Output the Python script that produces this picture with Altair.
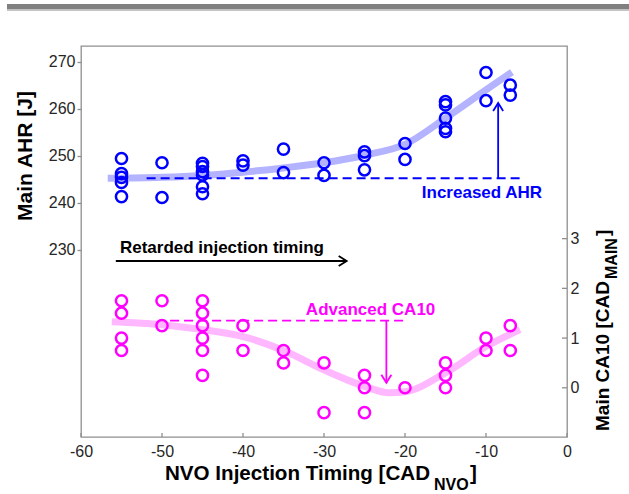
import altair as alt
import pandas as pd

# ---------------------------------------------------------------- data
# Main AHR [J] against NVO injection timing
ahr_timing = [-55, -55, -55, -55, -55,
              -50, -50,
              -45, -45, -45, -45, -45, -45,
              -40, -40,
              -35, -35,
              -30, -30,
              -25, -25, -25,
              -20, -20,
              -15, -15, -15, -15, -15,
              -10, -10,
              -7, -7]
ahr_values = [249.4, 246.2, 245.4, 244.3, 241.3,
              248.5, 241.1,
              248.4, 247.7, 246.6, 245.9, 243.4, 241.9,
              248.9, 248.0,
              251.4, 246.4,
              248.5, 245.8,
              250.8, 250.0, 247.0,
              252.6, 249.2,
              261.5, 260.8, 258.0, 255.8, 255.1,
              267.7, 261.7,
              265.0, 262.9]

# Main CA10 [CAD_MAIN] against NVO injection timing
ca10_timing = [-55, -55, -55, -55,
               -50, -50,
               -45, -45, -45, -45, -45, -45,
               -40, -40,
               -35, -35,
               -30, -30,
               -25, -25, -25,
               -20,
               -15, -15, -15,
               -10, -10,
               -7, -7]
ca10_values = [1.75, 1.5, 1.0, 0.75,
               1.75, 1.25,
               1.75, 1.5, 1.25, 1.0, 0.75, 0.25,
               1.25, 0.75,
               0.75, 0.5,
               0.5, -0.5,
               0.25, 0.0, -0.5,
               0.0,
               0.5, 0.25, 0.0,
               1.0, 0.75,
               1.25, 0.75]

# smoothed trends
ahr_fit_timing = [-56.7, -50, -45, -40, -35, -30, -25, -20, -15, -10, -6.8]
ahr_fit_values = [245.2, 245.4, 245.8, 246.5, 247.4, 248.5, 250.1, 252.4, 258.0, 264.0, 267.8]
ca10_fit_timing = [-56.2, -50, -45, -40, -35, -30, -25, -22, -20, -15, -10, -5.8]
ca10_fit_values = [1.33, 1.27, 1.17, 1.03, 0.75, 0.36, 0.03, -0.10, -0.08, 0.30, 0.83, 1.17]

# annotation geometry (data units)
ahr_ref_level = 245.2
ahr_ref_span = [-51.9, -5.4]
ahr_arrow = {"x": -8.5, "from": 245.2, "to": 261.2}
ca10_ref_level = 1.35
ca10_ref_span = [-49.0, -20.2]
ca10_arrow = {"x": -22.3, "from": 1.35, "to": 0.10}
timing_arrow = {"y": 227.6, "from": -55.7, "to": -27.2}

x_ticks = [-60, -50, -40, -30, -20, -10, 0]
ahr_ticks = [230, 240, 250, 260, 270]
ca10_ticks = [0, 1, 2, 3]

X_DOMAIN = [-60, 0]
AHR_DOMAIN = [190.15, 273.34]
CA10_DOMAIN = [-0.99, 6.875]

# ---------------------------------------------------------------- style
W, H = 486, 391
FONT = "Liberation Sans"
BLUE = "#0000ff"
MAGENTA = "#ff00ff"
BLUE_FIT = "#b3b3ff"
MAGENTA_FIT = "#ffb8ff"
FRAME = "#8f8f8f"
LABEL = "#262626"
DASH = [9, 5]

xs = alt.Scale(domain=X_DOMAIN, nice=False, zero=False)
ys_ahr = alt.Scale(domain=AHR_DOMAIN, nice=False, zero=False)
ys_ca = alt.Scale(domain=CA10_DOMAIN, nice=False, zero=False)

# one axis definition per scale, shared by every layer that uses it
x_axis = alt.Axis(
    values=x_ticks, title=None, ticks=False, tickSize=0, domain=False, grid=False,
    labelPadding=6, labelFont=FONT, labelFontSize=16, labelColor=LABEL,
    labelExpr="'' + datum.value", labelFlush=False)
ahr_axis = alt.Axis(
    orient="left", values=ahr_ticks, title=None, tickSize=4, tickColor=FRAME,
    tickWidth=1.3, domain=False, grid=False, labelPadding=2, labelFont=FONT,
    labelFontSize=16, labelColor=LABEL)
ca_axis = alt.Axis(
    orient="right", values=ca10_ticks, title=None, ticks=False, tickSize=0,
    domain=False, grid=False, labelPadding=3, labelFont=FONT, labelFontSize=16,
    labelColor=LABEL)

# open arrowheads, tip at the origin of the symbol
UP = "M -0.625 1 L 0 0 L 0.625 1"
DOWN = "M -0.625 -1 L 0 0 L 0.625 -1"
RIGHT = "M -1 -0.625 L 0 0 L -1 0.625"
HEAD_SIZE = 256
CIRCLE_SIZE = 125

one = pd.DataFrame({"k": [0]})


def xq(field):
    return alt.X(field, type="quantitative", scale=xs, axis=x_axis)


def y_ahr(field):
    return alt.Y(field, type="quantitative", scale=ys_ahr, axis=ahr_axis)


def y_ca(field):
    return alt.Y(field, type="quantitative", scale=ys_ca, axis=ca_axis)


# ---------------------------------------------------------------- AHR layers
ahr_df = pd.DataFrame({"t": ahr_timing, "v": ahr_values})
ahr_fit_df = pd.DataFrame({"t": ahr_fit_timing, "v": ahr_fit_values})
ahr_ref_df = pd.DataFrame({"t": ahr_ref_span, "v": [ahr_ref_level] * 2})
ahr_arrow_df = pd.DataFrame({"t": [ahr_arrow["x"]], "a": [ahr_arrow["from"]], "b": [ahr_arrow["to"]]})
timing_df = pd.DataFrame({"a": [timing_arrow["from"]], "b": [timing_arrow["to"]], "v": [timing_arrow["y"]]})

ahr_fit = alt.Chart(ahr_fit_df).mark_line(
    color=BLUE_FIT, strokeWidth=7, interpolate="monotone", strokeCap="butt"
).encode(x=xq("t"), y=y_ahr("v"))

ahr_ref = alt.Chart(ahr_ref_df).mark_line(
    color=BLUE, strokeWidth=1.8, strokeDash=DASH
).encode(x=xq("t"), y=y_ahr("v"))

ahr_shaft = alt.Chart(ahr_arrow_df).mark_rule(color=BLUE, strokeWidth=1.8).encode(
    x=xq("t"), y=y_ahr("a"), y2="b")
ahr_head = alt.Chart(ahr_arrow_df).mark_point(
    shape=UP, filled=False, color=BLUE, strokeWidth=1.8, size=HEAD_SIZE, opacity=1
).encode(x=xq("t"), y=y_ahr("b"))

ahr_label = alt.Chart(pd.DataFrame({"t": [-10.5], "v": [240.94]})).mark_text(
    text="Increased AHR", font=FONT, fontSize=17, fontWeight="bold", color=BLUE,
    align="center", baseline="alphabetic"
).encode(x=xq("t"), y=y_ahr("v"))

timing_shaft = alt.Chart(timing_df).mark_rule(color="black", strokeWidth=1.8).encode(
    x=xq("a"), x2="b", y=y_ahr("v"))
timing_head = alt.Chart(timing_df).mark_point(
    shape=RIGHT, filled=False, color="black", strokeWidth=1.8, size=HEAD_SIZE, opacity=1
).encode(x=xq("b"), y=y_ahr("v"))
timing_label = alt.Chart(pd.DataFrame({"t": [-42.6], "v": [229.2]})).mark_text(
    text="Retarded injection timing", font=FONT, fontSize=17, fontWeight="bold",
    color="black", align="center", baseline="alphabetic"
).encode(x=xq("t"), y=y_ahr("v"))

ahr_points = alt.Chart(ahr_df).mark_point(
    shape="circle", filled=False, color=BLUE, size=CIRCLE_SIZE, strokeWidth=2.5, opacity=1
).encode(x=xq("t"), y=y_ahr("v"))

# inward ticks on the bottom axis
x_tick_marks = alt.Chart(pd.DataFrame({"t": x_ticks})).mark_rule(
    color=FRAME, strokeWidth=1.3
).encode(x=xq("t"), y=alt.value(H), y2=alt.value(H - 4))

# axis titles (with subscripts)
title_style = dict(font=FONT, fontWeight="bold", color="black")
left_title = alt.Chart(one).mark_text(
    text="Main AHR [J]", fontSize=21, angle=270, align="center", baseline="middle", **title_style
).encode(x=alt.value(-55), y=alt.value(110))
x_title_main = alt.Chart(one).mark_text(
    text="NVO Injection Timing [CAD", fontSize=20.6, align="left", baseline="alphabetic", **title_style
).encode(x=alt.value(84), y=alt.value(434))
x_title_sub = alt.Chart(one).mark_text(
    text="NVO", fontSize=16, align="left", baseline="alphabetic", **title_style
).encode(x=alt.value(353), y=alt.value(444))
x_title_end = alt.Chart(one).mark_text(
    text="]", fontSize=20.6, align="left", baseline="alphabetic", **title_style
).encode(x=alt.value(389), y=alt.value(434))
r_title_main = alt.Chart(one).mark_text(
    text="Main CA10 [CAD", fontSize=19, angle=270, align="left", baseline="alphabetic", **title_style
).encode(x=alt.value(528), y=alt.value(385))
r_title_sub = alt.Chart(one).mark_text(
    text="MAIN", fontSize=16, angle=270, align="left", baseline="alphabetic", **title_style
).encode(x=alt.value(536), y=alt.value(233))
r_title_end = alt.Chart(one).mark_text(
    text="]", fontSize=19, angle=270, align="left", baseline="alphabetic", **title_style
).encode(x=alt.value(528), y=alt.value(190))

# header band
band = alt.Chart(one).mark_rect(color="#808080").encode(
    x=alt.value(-74), x2=alt.value(548), y=alt.value(-42), y2=alt.value(-36.5))
band_edge = alt.Chart(one).mark_rect(color="#c4c4c4").encode(
    x=alt.value(-74), x2=alt.value(548), y=alt.value(-36.5), y2=alt.value(-35))

ahr_layer = alt.layer(
    band, band_edge,
    ahr_fit, ahr_ref, ahr_shaft, ahr_head, ahr_label,
    timing_shaft, timing_head, timing_label,
    x_tick_marks, ahr_points,
    left_title, x_title_main, x_title_sub, x_title_end,
    r_title_main, r_title_sub, r_title_end,
)

# ---------------------------------------------------------------- CA10 layers
ca_df = pd.DataFrame({"t": ca10_timing, "v": ca10_values})
ca_fit_df = pd.DataFrame({"t": ca10_fit_timing, "v": ca10_fit_values})
ca_ref_df = pd.DataFrame({"t": ca10_ref_span, "v": [ca10_ref_level] * 2})
ca_arrow_df = pd.DataFrame({"t": [ca10_arrow["x"]], "a": [ca10_arrow["from"]], "b": [ca10_arrow["to"]]})

ca_fit = alt.Chart(ca_fit_df).mark_line(
    color=MAGENTA_FIT, strokeWidth=7, interpolate="monotone", strokeCap="butt"
).encode(x=xq("t"), y=y_ca("v"))
ca_ref = alt.Chart(ca_ref_df).mark_line(
    color=MAGENTA, strokeWidth=1.8, strokeDash=DASH
).encode(x=xq("t"), y=y_ca("v"))
ca_shaft = alt.Chart(ca_arrow_df).mark_rule(color=MAGENTA, strokeWidth=1.8).encode(
    x=xq("t"), y=y_ca("a"), y2="b")
ca_head = alt.Chart(ca_arrow_df).mark_point(
    shape=DOWN, filled=False, color=MAGENTA, strokeWidth=1.8, size=HEAD_SIZE, opacity=1
).encode(x=xq("t"), y=y_ca("b"))
ca_label = alt.Chart(pd.DataFrame({"t": [-24.25], "v": [1.463]})).mark_text(
    text="Advanced CA10", font=FONT, fontSize=17, fontWeight="bold", color=MAGENTA,
    align="center", baseline="alphabetic"
).encode(x=xq("t"), y=y_ca("v"))

# inward ticks on the right axis
ca_tick_marks = alt.Chart(pd.DataFrame({"v": ca10_ticks})).mark_rule(
    color=FRAME, strokeWidth=1.3
).encode(y=y_ca("v"), x=alt.value(W - 5), x2=alt.value(W))

ca_points = alt.Chart(ca_df).mark_point(
    shape="circle", filled=False, color=MAGENTA, size=CIRCLE_SIZE, strokeWidth=2.5, opacity=1
).encode(x=xq("t"), y=y_ca("v"))

ca_layer = alt.layer(ca_fit, ca_ref, ca_shaft, ca_head, ca_label, ca_tick_marks, ca_points)

chart = alt.layer(ahr_layer, ca_layer).resolve_scale(y="independent").properties(
    width=W, height=H,
    autosize=alt.AutoSizeParams(type="none"),
    padding={"left": 81, "top": 46, "right": 62, "bottom": 57},
    background="white",
).configure_view(stroke=FRAME, strokeWidth=1.3)

chart.save("out.html", embed_options={"renderer": "svg", "actions": False})
